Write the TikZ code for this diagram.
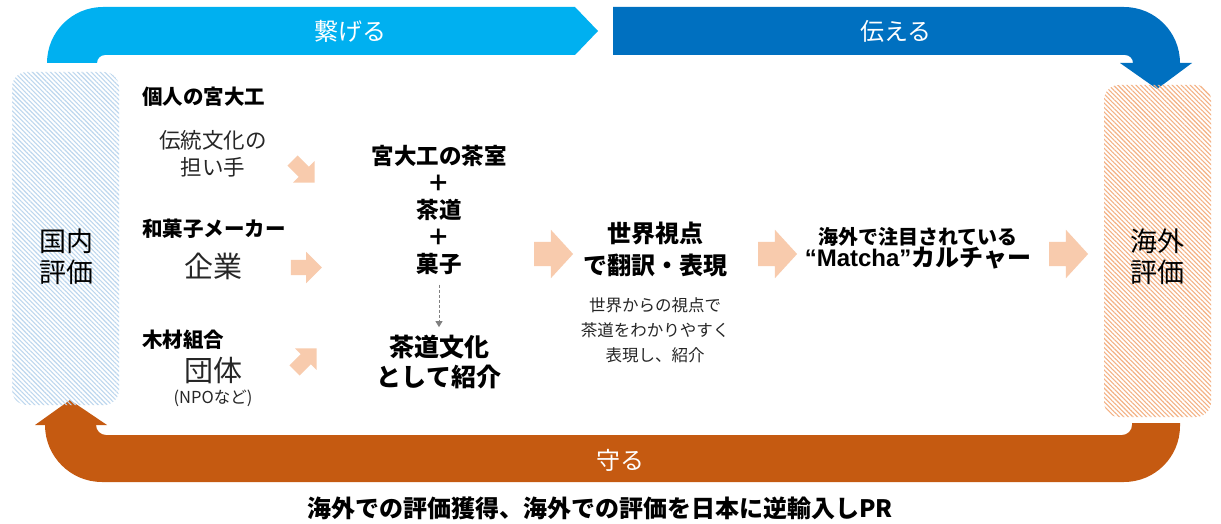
\documentclass[tikz,border=0pt]{standalone}
\usepackage{fontspec}
\setmainfont{Noto Sans CJK JP}
\newfontfamily\latinfont{Liberation Sans}
\usetikzlibrary{shapes.arrows,patterns.meta,arrows.meta}
\definecolor{cLB}{HTML}{00B0F0}
\definecolor{cDB}{HTML}{0070C0}
\definecolor{cBR}{HTML}{C55A11}
\definecolor{cAR}{HTML}{F8CBAD}
\definecolor{cHB}{HTML}{BDD7EE}
\definecolor{cHO}{HTML}{F4B183}
\definecolor{cTX}{HTML}{262626}
\newcommand\jsize[2]{\fontsize{#1}{#2}\selectfont}
\begin{document}
\begin{tikzpicture}[x=1pt,y=-1pt,
  every node/.style={inner sep=0pt,outer sep=0pt,align=center},
  bandtext/.style={text=white,font=\jsize{24}{28}},
  hatchbox/.style={rounded corners=15pt,minimum width=107pt},
  headbold/.style={anchor=west,font=\bfseries\jsize{20.5}{24},text=black},
  subtext/.style={text=cTX},
  smallarrow/.style={single arrow,fill=cAR,draw=none,minimum height=31pt,
     single arrow head extend=8pt,single arrow tip angle=90,inner sep=0pt},
  bigarrow/.style={single arrow,fill=cAR,draw=none,minimum height=39pt,
     single arrow head extend=12pt,single arrow tip angle=95,inner sep=0pt},
  boldtext/.style={font=\bfseries,text=black}]
\useasboundingbox (0,0) rectangle (1221,524);
\fill[white] (0,0) rectangle (1221,524);

% ---- bands ----
\fill[cLB] (47,63) arc[start angle=180,end angle=270,radius=56] -- (575,7) -- (598,31) -- (575,55)
   -- (105,55) arc[start angle=270,end angle=180,radius=8] -- cycle;
\fill[cDB] (613,7) -- (1124,7) arc[start angle=270,end angle=360,radius=56] -- (1192,63) -- (1157,89)
   -- (1120,63) -- (1133,63) arc[start angle=0,end angle=-90,radius=8] -- (613,55) -- cycle;
\fill[cBR] (1132,423) -- (1180,423) -- (1180,426) arc[start angle=0,end angle=90,radius=56]
   -- (102,482) arc[start angle=90,end angle=180,radius=57] -- (35,425) -- (70,400) -- (107,425)
   -- (96,425) arc[start angle=180,end angle=90,radius=10] -- (1122,435)
   arc[start angle=90,end angle=0,radius=10] -- cycle;

\node[bandtext] (connect) at (350,31) {繋げる};
\node[bandtext] (convey) at (896,31) {伝える};
\node[bandtext] (protect) at (620,460) {守る};

% ---- evaluation boxes ----
\node[hatchbox,minimum height=333pt,pattern={Lines[angle=-45,distance=3.2pt,line width=1.1pt]},pattern color=cHB]
   (dom) at (65.5,238.5) {};
\node[hatchbox,minimum height=332pt,pattern={Lines[angle=-45,distance=3.2pt,line width=1.1pt]},pattern color=cHO]
   (abr) at (1157.5,251) {};
\node[font=\jsize{27}{31},text=black] (domt) at (66,257) {国内\\評価};
\node[font=\jsize{27}{31},text=black] (abrt) at (1157,257) {海外\\評価};

% ---- left column ----
\node[headbold] (p1) at (142,97) {個人の宮大工};
\node[subtext,font=\jsize{21.5}{27}] (p1s) at (213,153.5) {伝統文化の\\担い手};
\node[headbold] (p2) at (142,229) {和菓子メーカー};
\node[subtext,font=\jsize{29}{32}] (p2s) at (213,266) {企業};
\node[headbold] (p3) at (142,340) {木材組合};
\node[subtext,font=\jsize{29}{32}] (p3s) at (213,371) {団体};
\node[subtext,font=\jsize{16.5}{18}] (p3n) at (213,398) {(NPOなど)};

\node[smallarrow,rotate=-45] (a1) at (301,169) {\rule{0pt}{14pt}};
\node[smallarrow] (a2) at (302.5,267.5) {\rule{0pt}{15pt}};
\node[smallarrow,rotate=45] (a3) at (303,362) {\rule{0pt}{14pt}};

% ---- centre column ----
\node[boldtext,font=\bfseries\jsize{22.5}{27}] (tea) at (439,210) {宮大工の茶室\\＋\\茶道\\＋\\菓子};
\node[boldtext,font=\bfseries\jsize{25}{30}] (intro) at (439,362) {茶道文化\\として紹介};
\draw[gray,dash pattern=on 3pt off 2pt,line width=0.8pt,-{Triangle[width=7pt,length=6pt]}]
   (tea.south) ++(0,10) coordinate (ds) (ds) -- ([yshift=8pt]intro.north);

\node[bigarrow] (b1) at (548,254) {\rule{0pt}{24pt}};
\node[boldtext,font=\bfseries\jsize{24}{32}] (world) at (655,249) {世界視点\\で翻訳・表現};
\node[subtext,font=\jsize{16.5}{25}] (worlds) at (655,330) {世界からの視点で\\茶道をわかりやすく\\表現し、紹介};
\node[bigarrow] (b2) at (772,254) {\rule{0pt}{24pt}};
\node[boldtext] (matcha) at (918,248) {{\bfseries\jsize{20}{30}海外で注目されている}\\{\bfseries\jsize{24}{30}{\latinfont\bfseries “Matcha”}カルチャー}};
\node[bigarrow] (b3) at (1063,254) {\rule{0pt}{24pt}};

% ---- caption ----
\node[boldtext,font=\bfseries\jsize{24}{28}] (caption) at (600,508) {海外での評価獲得、海外での評価を日本に逆輸入しPR};
\end{tikzpicture}
\end{document}
